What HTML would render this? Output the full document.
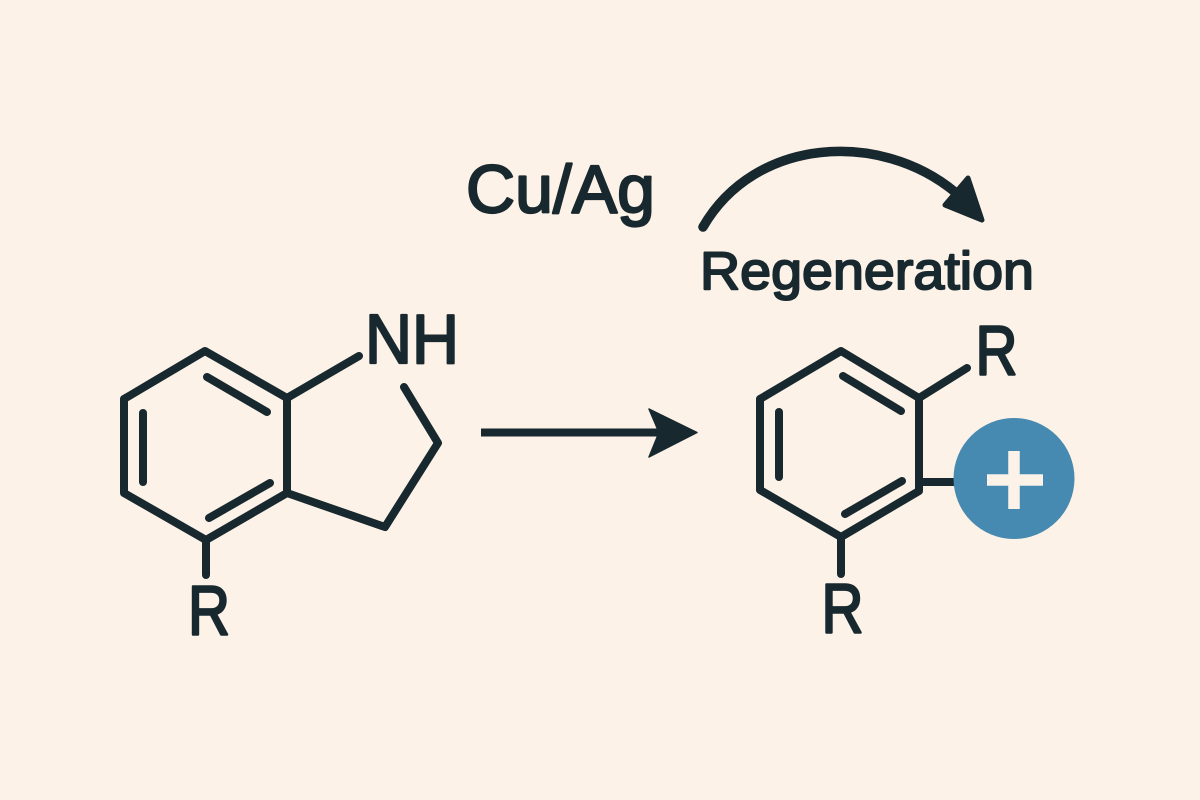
<!DOCTYPE html>
<html>
<head>
<meta charset="utf-8">
<style>
html,body{margin:0;padding:0;width:1200px;height:800px;overflow:hidden;background:#fcf2e7}
svg{display:block}
text{font-family:"Liberation Sans",sans-serif;fill:#18282f;stroke:#18282f;stroke-linejoin:round}
</style>
</head>
<body>
<svg width="1200" height="800" viewBox="0 0 1200 800" xmlns="http://www.w3.org/2000/svg">
<rect width="1200" height="800" fill="#fcf2e7"/>
<g fill="none" stroke="#18282f" stroke-width="8" stroke-linecap="round" stroke-linejoin="round">
<!-- left molecule -->
<path d="M205 351 L287 398 L287 493 L206 540 L124 493 L124 399 Z"/>
<path d="M207 377 L267 412"/>
<path d="M143 413 L143 482"/>
<path d="M209 518 L270 483"/>
<path d="M287 398 L359 356"/>
<path d="M404 387 L438 443 L385 527 L287 493"/>
<path d="M206 540 L206 575"/>
<!-- main arrow -->
<path d="M481 432.500 L660 432.500" stroke-linecap="butt"/>
<!-- right molecule -->
<path d="M841 351 L919 398 L919 491 L841 537 L760 490 L760 399 Z"/>
<path d="M843 376 L901 411"/>
<path d="M779 412 L779 477"/>
<path d="M845 514 L902 481"/>
<path d="M919 398 L967 368"/>
<path d="M921 482 L960 482" stroke-linecap="butt"/>
<path d="M841 537 L841 574"/>
<!-- curved arrow -->
<path d="M703 227 C755 137 880 130 955 192" stroke-width="9.500"/>
</g>
<polygon points="697,432.500 649,409 659,432.500 649,457" fill="#18282f" stroke="#18282f" stroke-width="1.500" stroke-linejoin="round"/>
<polygon points="982,220 945,205 968,178" fill="#18282f" stroke="#18282f" stroke-width="5" stroke-linejoin="round"/>
<circle cx="1014" cy="478.500" r="60.500" fill="#4689b1"/>
<path d="M1014 451V509M987 480H1043" stroke="#fcf2e7" stroke-width="11.500" fill="none"/>
<text x="466" y="212.500" font-size="68" stroke-width="2.200">Cu/Ag</text>
<text x="700" y="289" font-size="53" stroke-width="2" textLength="334" lengthAdjust="spacingAndGlyphs">Regeneration</text>
<text x="365" y="363" font-size="70" stroke-width="2.200" textLength="94" lengthAdjust="spacingAndGlyphs">NH</text>
<text x="188" y="634.500" font-size="70" stroke-width="2.400" textLength="42" lengthAdjust="spacingAndGlyphs">R</text>
<text x="975.500" y="374.500" font-size="70" stroke-width="2.400" textLength="42" lengthAdjust="spacingAndGlyphs">R</text>
<text x="821.500" y="632.500" font-size="70" stroke-width="2.400" textLength="42" lengthAdjust="spacingAndGlyphs">R</text>
</svg>
</body>
</html>
